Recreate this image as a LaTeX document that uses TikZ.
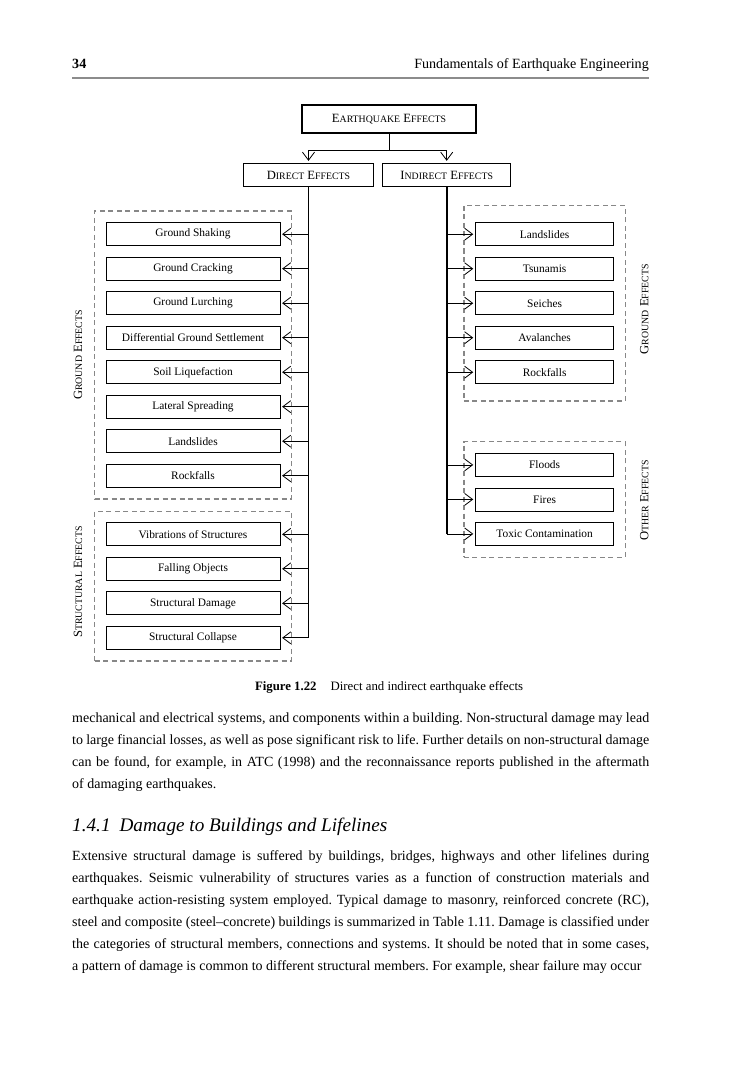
\documentclass[tikz,border=0pt]{standalone}
\usepackage{fontspec}
\setmainfont{Liberation Serif}
\usepackage{graphicx}
\usepackage{xcolor}
\usetikzlibrary{arrows.meta, positioning, fit, calc}
\definecolor{rulegray}{RGB}{140, 140, 140}
\definecolor{dashgray}{RGB}{135, 135, 135}
\newcommand{\capsword}[2]{#1\scalebox{0.78}{#2}}

\begin{document}
\begin{tikzpicture}[
        x=1pt, y=-1pt,
        node distance = 10.7pt,
        headbox/.style = {draw, line width=1.5pt, rectangle, minimum height=23.4pt, inner sep=0pt, font=\fontsize{12.6}{14}\selectfont},
        leftbox/.style = {draw, line width=0.8pt, rectangle, minimum width=174pt, minimum height=23pt, inner sep=0pt, font=\fontsize{11.4}{13}\selectfont},
        rightbox/.style = {leftbox, minimum width=138.5pt},
        groupbox/.style = {draw, dashgray, line width=1.2pt, dash pattern=on 5pt off 3.5pt, inner xsep=11pt, inner ysep=11.3pt},
        grouplabel/.style = {rotate=90, inner sep=0pt, font=\fontsize{12.6}{14}\selectfont},
        trunk/.style = {line width=1.6pt},
        arrow/.style = {line width=0.8pt, -{Straight Barb[length=8pt, width=12pt]}, shorten >=1.7pt},
        bodytext/.style = {inner sep=0pt, text width=577pt, align=justify, font=\fontsize{14}{22}\selectfont\frenchspacing}
    ]
        \path[fill=white, use as bounding box] (0,0) rectangle (740,1075);

        % Page head
        \node[anchor=base west, inner sep=0pt, font=\fontsize{14.1}{16}\selectfont\bfseries] (pagenum) at (72,69) {34};
        \node[anchor=base east, inner sep=0pt, font=\fontsize{14.1}{16}\selectfont] (runhead) at (649,69) {Fundamentals of Earthquake Engineering};
        \draw[rulegray, line width=2pt] (72,78) -- (649,78);

        % Nodes
        \node[headbox, minimum width=174pt, minimum height=28pt] (quake) at (389,119) {\capsword{E}{ARTHQUAKE} \capsword{E}{FFECTS}};
        \node[headbox, minimum width=130pt] (direct) at (308.5,175) {\capsword{D}{IRECT} \capsword{E}{FFECTS}};
        \node[headbox, minimum width=128pt] (indirect) at (446.7,175) {\capsword{I}{NDIRECT} \capsword{E}{FFECTS}};

        \node[leftbox] (gShaking) at (193,234.2) {Ground Shaking};
        \node[leftbox, below=of gShaking] (gCracking) {Ground Cracking};
        \node[leftbox, below=of gCracking] (gLurching) {Ground Lurching};
        \node[leftbox, below=of gLurching] (gSettlement) {Differential Ground Settlement};
        \node[leftbox, below=of gSettlement] (gLiquefaction) {Soil Liquefaction};
        \node[leftbox, below=of gLiquefaction] (gSpreading) {Lateral Spreading};
        \node[leftbox, below=of gSpreading] (gLandslides) {Landslides};
        \node[leftbox, below=of gLandslides] (gRockfalls) {Rockfalls};
        \node[leftbox, below=34.8pt of gRockfalls] (sVibration) {Vibrations of Structures};
        \node[leftbox, below=of sVibration] (sFalling) {Falling Objects};
        \node[leftbox, below=of sFalling] (sDamage) {Structural Damage};
        \node[leftbox, below=of sDamage] (sCollapse) {Structural Collapse};

        \node[rightbox] (iLandslides) at (544.6,234.2) {Landslides};
        \node[rightbox, below=of iLandslides] (iTsunamis) {Tsunamis};
        \node[rightbox, below=of iTsunamis] (iSeiches) {Seiches};
        \node[rightbox, below=of iSeiches] (iAvalanches) {Avalanches};
        \node[rightbox, below=of iAvalanches] (iRockfalls) {Rockfalls};
        \node[rightbox, below=68.9pt of iRockfalls] (oFloods) {Floods};
        \node[rightbox, below=of oFloods] (oFires) {Fires};
        \node[rightbox, below=of oFires] (oToxic) {Toxic Contamination};

        % Groups
        \node[groupbox, fit=(gShaking)(gRockfalls)] (groundL) {};
        \node[groupbox, fit=(sVibration)(sCollapse)] (structL) {};
        \node[groupbox, inner ysep=16.8pt, fit=(iLandslides)(iRockfalls)] (groundR) {};
        \node[groupbox, fit=(oFloods)(oToxic)] (otherR) {};

        \node[grouplabel, anchor=south] (groundLlab) at ($(groundL.west)+(-11.5,0)$) {\capsword{G}{ROUND} \capsword{E}{FFECTS}};
        \node[grouplabel, anchor=south] (structLlab) at ($(structL.west)+(-11.5,-4)$) {\capsword{S}{TRUCTURAL} \capsword{E}{FFECTS}};
        \node[grouplabel, anchor=north] (groundRlab) at ($(groundR.east)+(14,6)$) {\capsword{G}{ROUND} \capsword{E}{FFECTS}};
        \node[grouplabel, anchor=north] (otherRlab) at ($(otherR.east)+(14,1)$) {\capsword{O}{THER} \capsword{E}{FFECTS}};

        % Connections
        \draw[line width=0.8pt] (quake.south) -- ++(0,16.3) coordinate (split);
        \draw[arrow] (split) -| (direct.north);
        \draw[arrow] (split) -| (indirect.north);

        \draw[trunk] (direct.south) -- (direct.south |- sCollapse.east);
        \draw[trunk] (indirect.south) -- (indirect.south |- oToxic.west);

        \draw[arrow] (direct.south |- gShaking.east) -- (gShaking.east);
        \draw[arrow] (direct.south |- gCracking.east) -- (gCracking.east);
        \draw[arrow] (direct.south |- gLurching.east) -- (gLurching.east);
        \draw[arrow] (direct.south |- gSettlement.east) -- (gSettlement.east);
        \draw[arrow] (direct.south |- gLiquefaction.east) -- (gLiquefaction.east);
        \draw[arrow] (direct.south |- gSpreading.east) -- (gSpreading.east);
        \draw[arrow] (direct.south |- gLandslides.east) -- (gLandslides.east);
        \draw[arrow] (direct.south |- gRockfalls.east) -- (gRockfalls.east);
        \draw[arrow] (direct.south |- sVibration.east) -- (sVibration.east);
        \draw[arrow] (direct.south |- sFalling.east) -- (sFalling.east);
        \draw[arrow] (direct.south |- sDamage.east) -- (sDamage.east);
        \draw[arrow] (direct.south |- sCollapse.east) -- (sCollapse.east);

        \draw[arrow] (indirect.south |- iLandslides.west) -- (iLandslides.west);
        \draw[arrow] (indirect.south |- iTsunamis.west) -- (iTsunamis.west);
        \draw[arrow] (indirect.south |- iSeiches.west) -- (iSeiches.west);
        \draw[arrow] (indirect.south |- iAvalanches.west) -- (iAvalanches.west);
        \draw[arrow] (indirect.south |- iRockfalls.west) -- (iRockfalls.west);
        \draw[arrow] (indirect.south |- oFloods.west) -- (oFloods.west);
        \draw[arrow] (indirect.south |- oFires.west) -- (oFires.west);
        \draw[arrow] (indirect.south |- oToxic.west) -- (oToxic.west);

        % Caption and text
        \node[anchor=base, inner sep=0pt, font=\fontsize{12.8}{15}\selectfont] (caption) at (389,690) {\textbf{Figure 1.22}\hspace{14pt}Direct and indirect earthquake effects};

        \node[bodytext, anchor=north west] (para1) at (72,712.3) {\noindent mechanical and electrical systems, and components within a building. Non-structural damage may lead\linebreak to large financial losses, as well as pose significant risk to life. Further details on non-structural damage\linebreak can be found, for example, in ATC (1998) and the reconnaissance reports published in the aftermath\linebreak of damaging earthquakes.};

        \node[anchor=base west, inner sep=0pt, font=\fontsize{19.2}{22}\selectfont\itshape] (section) at (72,831) {1.4.1\hspace{9pt}Damage to Buildings and Lifelines};

        \node[bodytext, anchor=north west] (para2) at (72,850.3) {\noindent\setlength{\parfillskip}{0pt}Extensive structural damage is suffered by buildings, bridges, highways and other lifelines during\linebreak earthquakes. Seismic vulnerability of structures varies as a function of construction materials and\linebreak earthquake action-resisting system employed. Typical damage to masonry, reinforced concrete (RC),\linebreak steel and composite (steel–concrete) buildings is summarized in Table 1.11. Damage is classified under\linebreak the categories of structural members, connections and systems. It should be noted that in some cases,\linebreak a pattern of damage is common to different structural members. For example, shear failure may occur};
    \end{tikzpicture}
\end{document}
